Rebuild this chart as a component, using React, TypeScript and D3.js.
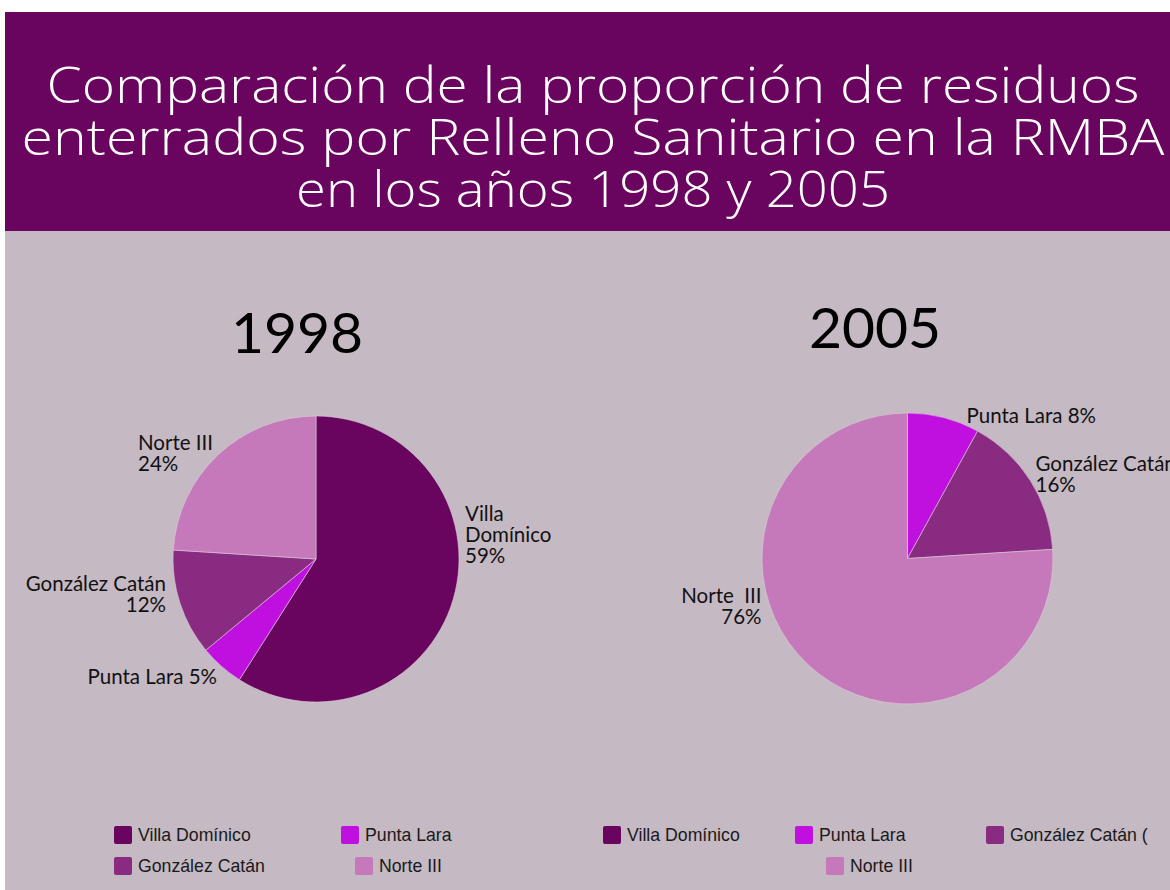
import React from "react";
import * as d3 from "d3";

const categories = ["Villa Domínico", "Punta Lara", "González Catán", "Norte III"];
const values1998 = [59, 5, 12, 24];
const values2005 = [0, 8, 16, 76];
const colors = ["#69045f", "#c010e0", "#8a2b82", "#c579bb"];
const titleLines = [
  "Comparación de la proporción de residuos",
  "enterrados por Relleno Sanitario en la RMBA",
  "en los años 1998 y 2005",
];
const legend2005 = ["Villa Domínico", "Punta Lara", "González Catán (", "Norte III"];

const W = 1170;
const H = 890;
const LABEL_FONT = "Lato, 'Open Sans', sans-serif";

// label placement per slice: dx/dy from pie center, anchor, lines
type Lbl = { i: number; dx: number; dy: number; anchor: string; lines: string[] };

const labels1998: Lbl[] = [
  { i: 0, dx: 149, dy: -38, anchor: "start", lines: ["Villa", "Domínico", "59%"] },
  { i: 1, dx: -99, dy: 125, anchor: "end", lines: ["Punta Lara 5%"] },
  { i: 2, dx: -150, dy: 32, anchor: "end", lines: ["González Catán", "12%"] },
  { i: 3, dx: -178, dy: -109, anchor: "start", lines: ["Norte III", "24%"] },
];
const labels2005: Lbl[] = [
  { i: 1, dx: 59, dy: -136, anchor: "start", lines: ["Punta Lara 8%"] },
  { i: 2, dx: 128, dy: -88, anchor: "start", lines: ["González Catán", "16%"] },
  { i: 3, dx: -146, dy: 44, anchor: "end", lines: ["Norte  III", "76%"] },
];

const Pie = ({ cx, cy, r, values, labels, year, yearX, yearY }:
  { cx: number; cy: number; r: number; values: number[]; labels: Lbl[]; year: string; yearX: number; yearY: number }) => {
  const pie = d3.pie<number>().value((d) => d).sort(null);
  const arcs = pie(values);
  const arc = d3.arc<d3.PieArcDatum<number>>().innerRadius(0).outerRadius(r);
  return (
    <g>
      <text x={yearX} y={yearY} textAnchor="middle" fontFamily={LABEL_FONT} fontSize={57} fill="#000">
        {year}
      </text>
      <g transform={`translate(${cx},${cy})`}>
        {arcs.map((a, i) =>
          a.value > 0 ? (
            <path key={i} d={arc(a) || ""} fill={colors[i]} stroke="#d8cdd6" strokeWidth={0.6} />
          ) : null
        )}
        {labels.map((l) => (
          <text key={l.i} x={l.dx} y={l.dy} textAnchor={l.anchor} fontFamily={LABEL_FONT} fontSize={20.5} fill="#111">
            {l.lines.map((t, j) => (
              <tspan key={j} x={l.dx} dy={j === 0 ? 0 : 21} style={{ whiteSpace: "pre" }}>
                {t}
              </tspan>
            ))}
          </text>
        ))}
      </g>
    </g>
  );
};

const LegendItem = ({ x, y, label, color }: { x: number; y: number; label: string; color: string }) => (
  <g transform={`translate(${x},${y})`}>
    <rect x={0} y={0} width={18} height={18} rx={2} fill={color} />
    <text x={24} y={14.5} fontFamily="'Liberation Sans', Arial, sans-serif" fontSize={17.7} fill="#1a1a1a">
      {label}
    </text>
  </g>
);

export default function App() {
  const titleWidths = [1093, 1143, 594];
  return (
    <svg width={W} height={H} style={{ position: "absolute", left: 0, top: 0 }}>
      <rect x={0} y={0} width={W} height={H} fill="#ffffff" />
      <rect x={5} y={231} width={W - 5} height={H - 231} fill="#c5b9c3" />
      <rect x={5} y={12} width={W - 5} height={219} fill="#69045f" />
      {titleLines.map((t, i) => (
        <text
          key={i}
          x={593}
          y={103 + i * 52}
          textAnchor="middle"
          fontFamily="'Open Sans', 'Noto Sans', sans-serif"
          fontWeight={300}
          fontSize={49}
          fill="#ffffff"
          textLength={titleWidths[i]}
          lengthAdjust="spacingAndGlyphs"
        >
          {t}
        </text>
      ))}
      <Pie cx={316} cy={559} r={143} values={values1998} labels={labels1998} year="1998" yearX={297} yearY={353} />
      <Pie cx={907.5} cy={558.5} r={145.5} values={values2005} labels={labels2005} year="2005" yearX={875} yearY={348} />

      {/* legend 1998 */}
      <LegendItem x={114} y={826} label={categories[0]} color={colors[0]} />
      <LegendItem x={341} y={826} label={categories[1]} color={colors[1]} />
      <LegendItem x={114} y={857} label={categories[2]} color={colors[2]} />
      <LegendItem x={355} y={857} label={categories[3]} color={colors[3]} />

      {/* legend 2005 */}
      <LegendItem x={603} y={826} label={legend2005[0]} color={colors[0]} />
      <LegendItem x={795} y={826} label={legend2005[1]} color={colors[1]} />
      <LegendItem x={986} y={826} label={legend2005[2]} color={colors[2]} />
      <LegendItem x={826} y={857} label={legend2005[3]} color={colors[3]} />
    </svg>
  );
}
